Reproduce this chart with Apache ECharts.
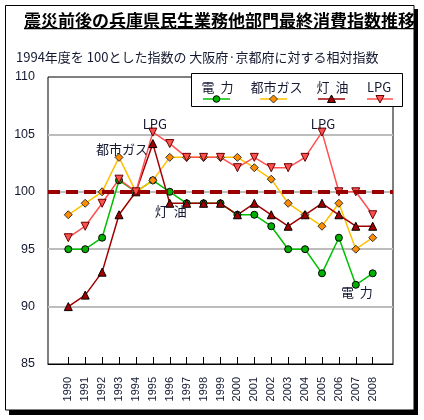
<!DOCTYPE html>
<html>
<head>
<meta charset="utf-8">
<script src="https://cdn.jsdelivr.net/npm/echarts@6/dist/echarts.min.js"></script>
<style>
  body { margin: 0; background: #fff; }
  #chart { width: 424px; height: 420px; }
</style>
</head>
<body>
<div id="chart"></div>
<script>
// 年度
var years = [1990, 1991, 1992, 1993, 1994, 1995, 1996, 1997, 1998, 1999,
             2000, 2001, 2002, 2003, 2004, 2005, 2006, 2007, 2008];
// 1994年度=100 の相対指数
var denryoku = [95, 95, 96, 101, 100, 101, 100, 99, 99, 99, 98, 98, 97, 95, 95, 92.9, 96, 91.9, 92.9];
var toshiGas = [98, 99, 100, 103, 100, 101, 103, 103, 103, 103, 103, 102.1, 101.1, 99, 98, 97, 99, 95, 96];
var touyu    = [90, 91, 93, 98, 100, 104.2, 99, 99, 99, 99, 98, 99, 98, 97, 98, 99, 98, 97, 97];
var lpg      = [96, 97, 99, 101.1, 100, 105.2, 104.2, 103, 103, 103, 102.1, 103, 102.1, 102.1, 103, 105.2, 100, 100, 98];
var yTicks   = [85, 90, 95, 100, 105, 110];

var txt = '#141830';
var jp = '"Noto Sans CJK JP", sans-serif';

function pts(vals, labels) {
  return vals.map(function (v, i) {
    var d = { value: [years[i], v] };
    if (labels[i]) d.label = labels[i];
    return d;
  });
}
function lab(text, pos, off) {
  return { show: true, formatter: text, position: pos, distance: 0, offset: off,
           color: txt, fontSize: 13, fontFamily: jp };
}

var myChart = echarts.init(document.getElementById('chart'));

myChart.setOption({
  animation: false,
  backgroundColor: '#fff',
  grid: { left: 48, right: 31, top: 77, bottom: 56, show: true,
          borderColor: '#000', borderWidth: 1, containLabel: false, outerBoundsMode: 'none' },
  xAxis: {
    type: 'value', min: 1988.8, max: 2009.2,
    axisLine: { show: true, lineStyle: { color: '#000', width: 1 } },
    axisTick: { show: true, inside: true, length: 7, customValues: years,
                lineStyle: { color: '#000' } },
    axisLabel: { customValues: years, rotate: 90, margin: 13, fontSize: 11,
                 color: txt, fontFamily: 'Liberation Sans',
                 formatter: function (v) { return String(v); } },
    splitLine: { show: false }
  },
  yAxis: {
    type: 'value', min: 85, max: 110, interval: 5,
    axisLine: { show: false }, axisTick: { show: false },
    axisLabel: { margin: 13, fontSize: 12.5, color: txt, fontFamily: 'Liberation Sans',
                 customValues: yTicks },
    splitLine: { show: true, showMinLine: false, showMaxLine: false,
                 lineStyle: { color: '#bdbdbd', width: 2 } }
  },
  series: [
    {
      name: '電力', type: 'line',
      data: pts(denryoku, { 17: lab('電  力', 'bottom', [1, -3]) }),
      symbol: 'circle', symbolSize: 7,
      lineStyle: { color: '#00c000', width: 1.5 },
      itemStyle: { color: '#00b000', borderColor: '#000', borderWidth: 1 },
      markLine: {
        silent: true, symbol: ['none', 'none'], label: { show: false },
        lineStyle: { color: '#990000', width: 4, type: [12, 6] },
        data: [{ yAxis: 100 }]
      }
    },
    {
      name: '都市ガス', type: 'line',
      data: pts(toshiGas, { 3: lab('都市ガス', 'top', [3, 3]) }),
      symbol: 'diamond', symbolSize: 8,
      lineStyle: { color: '#ffc000', width: 1.5 },
      itemStyle: { color: '#ff8c00', borderColor: '#333', borderWidth: 1 }
    },
    {
      name: '灯油', type: 'line',
      data: pts(touyu, { 6: lab('灯  油', 'bottom', [1, -3]) }),
      symbol: 'triangle', symbolSize: 8,
      lineStyle: { color: '#a00000', width: 1.5 },
      itemStyle: { color: '#a00000', borderColor: '#000', borderWidth: 1 }
    },
    {
      name: 'LPG', type: 'line',
      data: pts(lpg, { 5: lab('LPG', 'top', [2, 3]), 15: lab('LPG', 'top', [1, 3]) }),
      symbol: 'triangle', symbolRotate: 180, symbolSize: 8,
      lineStyle: { color: '#ff5050', width: 1.5 },
      itemStyle: { color: '#ff5050', borderColor: '#600', borderWidth: 1 }
    }
  ],
  graphic: [
    // 枠と影
    { type: 'rect', z: -10, shape: { x: 9, y: 9, width: 409, height: 406 }, style: { fill: '#000' } },
    { type: 'rect', z: -9, shape: { x: 5.5, y: 5.5, width: 408.5, height: 404.5 },
      style: { fill: '#fff', stroke: '#000', lineWidth: 1 } },
    // タイトル
    { type: 'text', z: -8, left: 24, top: 12,
      style: { text: '震災前後の兵庫県民生業務他部門最終消費指数推移', fill: '#000',
               font: 'bold 17px "Noto Sans CJK JP", sans-serif' } },
    { type: 'rect', z: -8, shape: { x: 24, y: 28, width: 392, height: 1.3 }, style: { fill: '#000' } },
    { type: 'rect', z: -7, shape: { x: 414, y: 9, width: 4, height: 30 }, style: { fill: '#000' } },
    { type: 'text', z: -8, left: 16, top: 51,
      style: { text: '1994年度を 100とした指数の 大阪府·京都府に対する相対指数', fill: txt,
               font: '13px "Noto Sans CJK JP", sans-serif' } },
    // 凡例
    { type: 'rect', z: 50, shape: { x: 191.5, y: 73.5, width: 211, height: 33 },
      style: { fill: '#fff', stroke: '#000', lineWidth: 1 } },
    { type: 'text', z: 51, x: 217.5, y: 87, style: { text: '電  力', fill: txt, font: '13px ' + jp, align: 'center', verticalAlign: 'middle' } },
    { type: 'text', z: 51, x: 276.5, y: 87, style: { text: '都市ガス', fill: txt, font: '13px ' + jp, align: 'center', verticalAlign: 'middle' } },
    { type: 'text', z: 51, x: 332.5, y: 87, style: { text: '灯  油', fill: txt, font: '13px ' + jp, align: 'center', verticalAlign: 'middle' } },
    { type: 'text', z: 51, x: 379, y: 87, style: { text: 'LPG', fill: txt, font: '13px ' + jp, align: 'center', verticalAlign: 'middle' } },
    { type: 'line', z: 51, shape: { x1: 203, y1: 99, x2: 230, y2: 99 }, style: { stroke: '#00c000', lineWidth: 1.5 } },
    { type: 'line', z: 51, shape: { x1: 260, y1: 99, x2: 287, y2: 99 }, style: { stroke: '#ffc000', lineWidth: 1.5 } },
    { type: 'line', z: 51, shape: { x1: 318, y1: 99, x2: 345, y2: 99 }, style: { stroke: '#a00000', lineWidth: 1.5 } },
    { type: 'line', z: 51, shape: { x1: 367, y1: 99, x2: 393, y2: 99 }, style: { stroke: '#ff5050', lineWidth: 1.5 } },
    { type: 'circle', z: 52, shape: { cx: 216.5, cy: 99, r: 3.3 }, style: { fill: '#00b000', stroke: '#000', lineWidth: 1 } },
    { type: 'polygon', z: 52, shape: { points: [[273.5, 95], [277.5, 99], [273.5, 103], [269.5, 99]] },
      style: { fill: '#ff8c00', stroke: '#333', lineWidth: 1 } },
    { type: 'polygon', z: 52, shape: { points: [[331.5, 95], [335.5, 102.5], [327.5, 102.5]] },
      style: { fill: '#a00000', stroke: '#000', lineWidth: 1 } },
    { type: 'polygon', z: 52, shape: { points: [[376, 95.5], [384, 95.5], [380, 103]] },
      style: { fill: '#ff5050', stroke: '#600', lineWidth: 1 } }
  ]
});
</script>
</body>
</html>
